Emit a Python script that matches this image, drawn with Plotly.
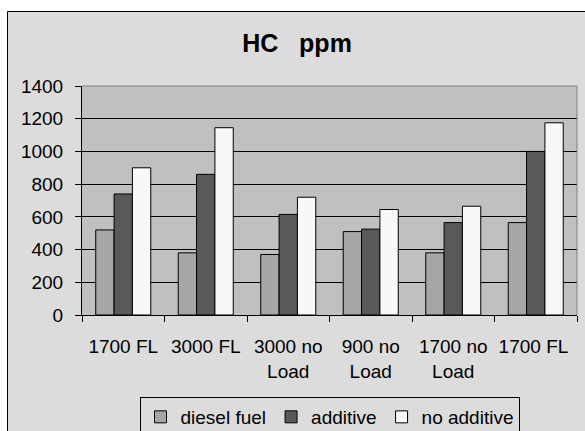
import plotly.graph_objects as go

categories = ["1700 FL", "3000 FL", "3000 no<br>Load", "900 no<br>Load", "1700 no<br>Load", "1700 FL "]
diesel_fuel = [520, 380, 370, 510, 380, 565]
additive = [740, 860, 615, 525, 565, 1000]
no_additive = [900, 1145, 720, 645, 665, 1175]
series_names = ["diesel fuel", "additive", "no additive"]
series_colors = ["#a6a6a6", "#595959", "#f8f8f8"]

W, H = 585, 431
L, R, T, B = 82, 8, 86, 116
pw = W - L - R
ph = H - T - B

def px_x(x):
    return (x - L) / pw

def px_y(y):
    return (H - B - y) / ph

font_family = "Liberation Sans, Arial, sans-serif"

fig = go.Figure()
for name, vals, col in zip(series_names, [diesel_fuel, additive, no_additive], series_colors):
    fig.add_trace(go.Bar(
        x=categories, y=vals, name=name,
        marker=dict(color=col, line=dict(color="#000000", width=1)),
    ))

fig.update_layout(
    width=W, height=H,
    margin=dict(l=L, r=R, t=T, b=B, autoexpand=False),
    paper_bgcolor="#ffffff",
    plot_bgcolor="rgba(0,0,0,0)",
    barmode="group", bargap=0.333, bargroupgap=0,
    font=dict(family=font_family, size=19, color="#000000"),
    title=dict(text="<b>HC\u00a0\u00a0 ppm</b>", x=297 / W, xref="container", xanchor="center",
               y=1 - 43 / H, yref="container", yanchor="middle",
               font=dict(size=25, family=font_family, color="#000000")),
    showlegend=True,
    legend=dict(orientation="h", x=0.5, xanchor="center", xref="paper",
                y=px_y(397), yanchor="top", yref="paper",
                bgcolor="#dcdcdc", bordercolor="#000000", borderwidth=1,
                itemwidth=30,
                font=dict(size=19, family=font_family)),
    xaxis=dict(type="category", tickson="boundaries", ticks="outside", ticklen=6,
               tickcolor="#000000", showline=True, linecolor="#000000", linewidth=1,
               showgrid=False, tickangle=0, ticklabelstandoff=14),
    yaxis=dict(range=[0, 1400], dtick=200, tick0=0, ticks="outside", ticklen=6,
               tickcolor="#000000", showline=True, linecolor="#000000", linewidth=1,
               showgrid=True, gridcolor="#000000", gridwidth=1, zeroline=False,
               ticklabelstandoff=8),
    shapes=[
        dict(type="rect", xref="paper", yref="paper", layer="below",
             x0=px_x(7.5), x1=px_x(620), y0=px_y(470), y1=px_y(11.5),
             fillcolor="#dcdcdc", line=dict(color="#000000", width=1)),
        dict(type="rect", xref="paper", yref="paper", layer="below",
             x0=0, x1=1, y0=0, y1=1,
             fillcolor="#c0c0c0", line=dict(width=0)),
        dict(type="line", xref="paper", yref="paper", layer="above",
             x0=0, x1=1, y0=1, y1=1, line=dict(color="#808080", width=1)),
        dict(type="line", xref="paper", yref="paper", layer="above",
             x0=1, x1=1, y0=0, y1=1, line=dict(color="#808080", width=1)),
    ],
)

fig.write_html("out.html")
